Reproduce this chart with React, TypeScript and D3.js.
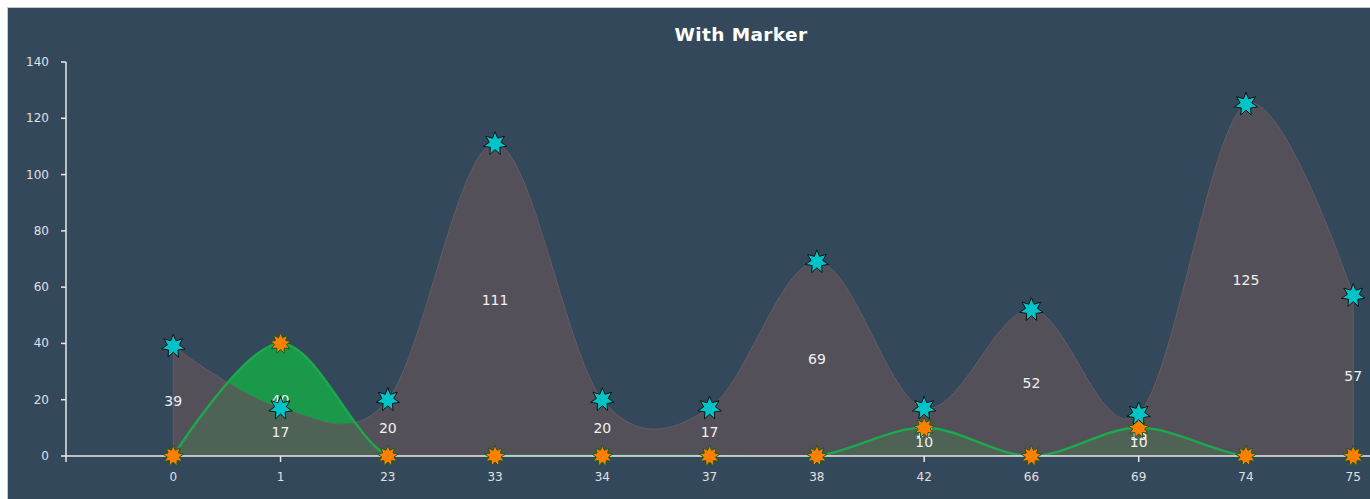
import React from "react";
import * as d3 from "d3";

const title = "With Marker";
const categories = ["0", "1", "23", "33", "34", "37", "38", "42", "66", "69", "74", "75"];
const grayValues = [39, 17, 20, 111, 20, 17, 69, 17, 52, 15, 125, 57];
const greenValues = [0, 40, 0, 0, 0, 0, 0, 10, 0, 10, 0, 0];
const yTicks = [0, 20, 40, 60, 80, 100, 120, 140];

const W = 1363;
const H = 492;
const plotLeft = 59;
const plotRight = 1453.5;
const plotTop = 55;
const plotBottom = 449;

function starPath(n: number, R: number, r: number): string {
  const pts: [number, number][] = d3.range(n * 2).map((i) => {
    const a = (Math.PI * i) / n - Math.PI / 2;
    const rad = i % 2 === 0 ? R : r;
    return [Math.cos(a) * rad, Math.sin(a) * rad];
  });
  return "M" + pts.map((p) => p[0].toFixed(2) + "," + p[1].toFixed(2)).join("L") + "Z";
}

export default function App() {
  const x = d3.scalePoint<string>().domain(categories).range([plotLeft, plotRight]).padding(1);
  const y = d3.scaleLinear().domain([0, 140]).range([plotBottom, plotTop]);
  const curve = d3.curveCardinal.tension(0);

  const area = d3
    .area<number>()
    .x((_, i) => x(categories[i]) as number)
    .y0(y(0))
    .y1((d) => y(d))
    .curve(curve);
  const line = d3
    .line<number>()
    .x((_, i) => x(categories[i]) as number)
    .y((d) => y(d))
    .curve(curve);

  const cyanStar = starPath(7, 12, 6);
  const orangeStar = starPath(9, 10.5, 6);
  const font = "'DejaVu Sans', Verdana, sans-serif";

  return (
    <svg
      width={W}
      height={H}
      style={{ position: "absolute", left: 7, top: 7, display: "block" }}
    >
      <defs>
        <clipPath id="plotclip">
          <rect x={plotLeft} y={plotTop - 20} width={plotRight - plotLeft + 20} height={plotBottom - plotTop + 20} />
        </clipPath>
      </defs>
      <rect x={0} y={0} width={W} height={H} fill="#34485c" />
      <line x1={0.5} y1={0} x2={0.5} y2={H} stroke="#c8c8c8" strokeWidth={1} />
      <line x1={0} y1={0.5} x2={W} y2={0.5} stroke="#c8c8c8" strokeWidth={1} />
      <text x={734} y={34} textAnchor="middle" fill="#ffffff" fontFamily={font} fontWeight="bold" fontSize={18.5} letterSpacing={0.4}>
        {title}
      </text>

      <g clipPath="url(#plotclip)">
        <path d={area(greenValues) as string} fill="#1a994b" />
        <path d={area(grayValues) as string} fill="#5d5258" fillOpacity={0.78} stroke="#665b61" strokeWidth={1} />
        <path d={line(greenValues) as string} fill="none" stroke="#1ca84d" strokeWidth={2.5} />
      </g>

      {/* y axis */}
      <line x1={plotLeft} y1={plotTop} x2={plotLeft} y2={plotBottom} stroke="#e8e8e8" strokeWidth={1.5} />
      {yTicks.map((t) => (
        <g key={"y" + t}>
          <line x1={plotLeft - 5} x2={plotLeft} y1={y(t)} y2={y(t)} stroke="#e8e8e8" strokeWidth={1.5} />
          <text x={42} y={y(t) + 4} textAnchor="end" fill="#e0e0e0" fontFamily={font} fontSize={12}>
            {t}
          </text>
        </g>
      ))}

      {/* x axis */}
      <line x1={plotLeft} y1={plotBottom} x2={W} y2={plotBottom} stroke="#e8e8e8" strokeWidth={1.5} />
      <line x1={plotLeft} x2={plotLeft} y1={plotBottom} y2={plotBottom + 6} stroke="#e8e8e8" strokeWidth={1.5} />
      {categories.map((c) => (
        <g key={"x" + c}>
          <line x1={x(c)} x2={x(c)} y1={plotBottom} y2={plotBottom + 6} stroke="#e8e8e8" strokeWidth={1.5} />
          <text x={x(c)} y={474} textAnchor="middle" fill="#e0e0e0" fontFamily={font} fontSize={12}>
            {c}
          </text>
        </g>
      ))}

      {/* data labels */}
      {grayValues.map((v, i) => (
        <text key={"ga" + i} x={x(categories[i])} y={y(v / 2) + 5} textAnchor="middle" fill="#f0f0f0" fontFamily={font} fontSize={14}>
          {v}
        </text>
      ))}
      {greenValues.map((v, i) =>
        v > 0 ? (
          <text key={"gb" + i} x={x(categories[i])} y={y(v / 2) + 5} textAnchor="middle" fill="#f0f0f0" fontFamily={font} fontSize={14}>
            {v}
          </text>
        ) : null
      )}

      {/* markers */}
      {greenValues.map((v, i) => (
        <path
          key={"mb" + i}
          d={orangeStar}
          transform={`translate(${x(categories[i])},${y(v)})`}
          fill="#ff8000"
          stroke="#1e5a1e"
          strokeWidth={1}
        />
      ))}
      {grayValues.map((v, i) => (
        <path
          key={"ma" + i}
          d={cyanStar}
          transform={`translate(${x(categories[i])},${y(v)})`}
          fill="#00c4c8"
          stroke="#111111"
          strokeWidth={1}
        />
      ))}
    </svg>
  );
}
